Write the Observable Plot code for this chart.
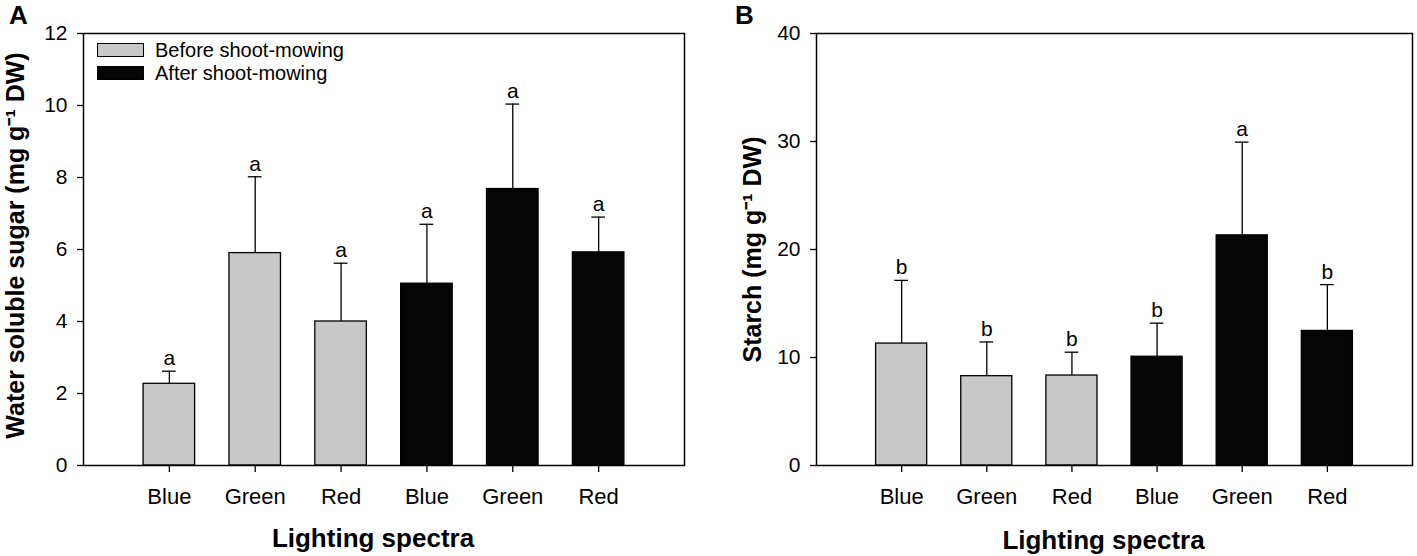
<!DOCTYPE html>
<html><head><meta charset="utf-8">
<script src="https://cdn.jsdelivr.net/npm/d3@7"></script>
<script src="https://cdn.jsdelivr.net/npm/@observablehq/plot@0.6"></script>
<style>
body{margin:0;background:#fff;font-family:"Liberation Sans",Arial,sans-serif;color:#000;}
#wrap{position:relative;width:1417px;height:556px;overflow:hidden;background:#fff;}
.panel{position:absolute;top:0;}
.plabel{position:absolute;top:0;font-weight:bold;font-size:26px;line-height:30px;}
.leg{position:absolute;font-size:20px;line-height:23px;white-space:nowrap;}
.sw{position:absolute;box-sizing:border-box;border:1.3px solid #000;}
</style></head><body>
<div id="wrap"></div>
<script>
// categories
const spectra = ["Blue", "Green", "Red", "Blue", "Green", "Red"];
const stages = ["Before", "Before", "Before", "After", "After", "After"];
const stageNames = ["Before", "After"];
const stageLabels = ["Before shoot-mowing", "After shoot-mowing"];
const stageColors = ["#c8c8c8", "#050505"];

// Panel A: water soluble sugar (mg g-1 DW)
const sugarMean = [2.27, 5.90, 4.00, 5.05, 7.68, 5.92];
const sugarSE = [0.35, 2.12, 1.62, 1.65, 2.36, 0.98];
const sugarLetters = ["a", "a", "a", "a", "a", "a"];
const sugarTicks = [0, 2, 4, 6, 8, 10, 12];

// Panel B: starch (mg g-1 DW)
const starchMean = [11.29, 8.27, 8.33, 10.07, 21.31, 12.46];
const starchSE = [5.85, 3.17, 2.16, 3.11, 8.63, 4.29];
const starchLetters = ["b", "b", "b", "b", "a", "b"];
const starchTicks = [0, 10, 20, 30, 40];

const FONT = '"Liberation Sans", Arial, sans-serif';

function makePanel({means, ses, letters, ticks, yTitle, width, marginLeft, marginRight, titleDx, titleDy, xTitleDy}) {
  const data = spectra.map((s, i) => ({
    pos: i + 1, spectrum: s, stage: stages[i],
    mean: means[i], top: means[i] + ses[i], letter: letters[i]
  }));
  return Plot.plot({
    width, height: 556,
    marginLeft, marginRight, marginTop: 33, marginBottom: 91,
    style: {fontFamily: FONT, color: "#000", background: "transparent", overflow: "visible"},
    x: {domain: [0, 7], axis: null},
    y: {domain: [ticks[0], ticks[ticks.length - 1]], axis: null},
    color: {domain: stageNames, range: stageColors},
    marks: [
      Plot.rectY(data, {x1: d => d.pos - 0.3, x2: d => d.pos + 0.3, y1: 0, y2: "mean", fill: "stage", stroke: "#000", strokeWidth: 1.3}),
      Plot.ruleX(data, {x: "pos", y1: "mean", y2: "top", stroke: "#000", strokeWidth: 1.3}),
      Plot.ruleY(data, {y: "top", x1: d => d.pos - 0.08, x2: d => d.pos + 0.08, stroke: "#000", strokeWidth: 1.3}),
      Plot.text(data, {x: "pos", y: "top", text: "letter", dy: -6, lineAnchor: "bottom", fontSize: 21, fill: "#000"}),
      Plot.frame({stroke: "#000", strokeWidth: 1.5}),
      Plot.axisY({ticks, tickSize: 6, tickPadding: 10, fontSize: 21, label: null, tickFormat: d => String(d), stroke: "#000", strokeWidth: 1.3}),
      Plot.axisX({ticks: data.map(d => d.pos), tickFormat: p => spectra[p - 1], tickSize: 7, tickPadding: 16, fontSize: 22, label: null, stroke: "#000", strokeWidth: 1.3}),
      Plot.text([yTitle], {text: d => d, frameAnchor: "left", rotate: -90, textAnchor: "middle", dx: titleDx, dy: titleDy, lineAnchor: "bottom", fontSize: 25, fontWeight: "bold", fill: "#000"}),
      Plot.text(["Lighting spectra"], {text: d => d, frameAnchor: "bottom", textAnchor: "middle", dx: -11, dy: xTitleDy, lineAnchor: "bottom", fontSize: 26, fontWeight: "bold", fill: "#000"})
    ]
  });
}

const wrap = document.getElementById("wrap");

// Panel A
const divA = document.createElement("div");
divA.className = "panel";
divA.style.left = "0px";
divA.style.width = "708px";
divA.appendChild(makePanel({
  means: sugarMean, ses: sugarSE, letters: sugarLetters, ticks: sugarTicks,
  yTitle: "Water soluble sugar (mg g\u207B\u00B9 DW)",
  width: 708, marginLeft: 83, marginRight: 24, titleDx: -60, titleDy: -4, xTitleDy: 81
}));
const labA = document.createElement("div");
labA.className = "plabel"; labA.style.left = "9px"; labA.textContent = "A";
divA.appendChild(labA);
// legend
stageNames.forEach((s, i) => {
  const sw = document.createElement("div");
  sw.className = "sw";
  sw.style.left = "97px";
  sw.style.top = (i === 0 ? 43 : 66) + "px";
  sw.style.width = "47px";
  sw.style.height = "14px";
  sw.style.background = stageColors[i];
  divA.appendChild(sw);
  const t = document.createElement("div");
  t.className = "leg";
  t.style.left = "155px";
  t.style.top = (i === 0 ? 39 : 62) + "px";
  t.textContent = stageLabels[i];
  divA.appendChild(t);
});
wrap.appendChild(divA);

// Panel B
const divB = document.createElement("div");
divB.className = "panel";
divB.style.left = "708px";
divB.style.width = "709px";
divB.appendChild(makePanel({
  means: starchMean, ses: starchSE, letters: starchLetters, ticks: starchTicks,
  yTitle: "Starch (mg g\u207B\u00B9 DW)",
  width: 709, marginLeft: 108, marginRight: 5, titleDx: -56, titleDy: 0, xTitleDy: 83
}));
const labB = document.createElement("div");
labB.className = "plabel"; labB.style.left = "27px"; labB.textContent = "B";
divB.appendChild(labB);
wrap.appendChild(divB);
</script>
</body></html>
